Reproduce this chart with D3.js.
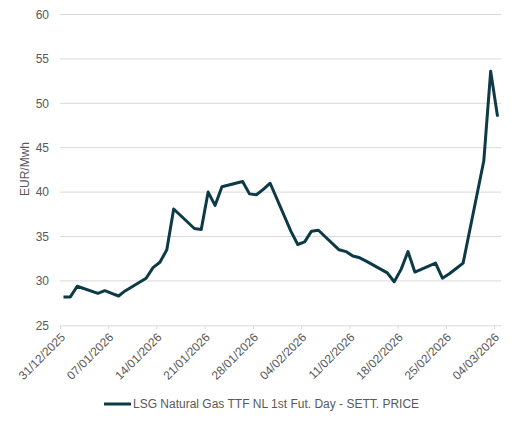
<!DOCTYPE html>
<html>
<head>
<meta charset="utf-8">
<script src="https://cdn.jsdelivr.net/npm/d3@7"></script>
<style>
html,body{margin:0;padding:0;background:#fff;}
svg{display:block;font-family:"Liberation Sans",Arial,sans-serif;}
</style>
</head>
<body>
<svg id="chart" width="521" height="422"></svg>
<script>
const dates = ["2025-12-31","2026-01-01","2026-01-02","2026-01-05","2026-01-06","2026-01-07","2026-01-08","2026-01-09",
"2026-01-12","2026-01-13","2026-01-14","2026-01-15","2026-01-16","2026-01-19","2026-01-20","2026-01-21","2026-01-22","2026-01-23",
"2026-01-26","2026-01-27","2026-01-28","2026-01-29","2026-01-30","2026-02-02","2026-02-03","2026-02-04","2026-02-05","2026-02-06",
"2026-02-09","2026-02-10","2026-02-11","2026-02-12","2026-02-13","2026-02-16","2026-02-17","2026-02-18","2026-02-19","2026-02-20",
"2026-02-23","2026-02-24","2026-02-25","2026-02-26","2026-02-27","2026-03-02","2026-03-03","2026-03-04"];
const prices = [28.2,28.2,29.4,28.6,28.9,28.6,28.3,28.9,
30.3,31.5,32.1,33.5,38.1,35.9,35.8,40.0,38.5,40.6,
41.2,39.8,39.7,40.3,41.0,35.6,34.1,34.4,35.6,35.7,
33.5,33.3,32.8,32.6,32.2,30.9,29.9,31.3,33.3,31.0,
32.0,30.3,30.8,31.4,32.0,43.5,53.6,48.5];
const yTicks = [25,30,35,40,45,50,55,60];
const xTickLabels = ["31/12/2025","07/01/2026","14/01/2026","21/01/2026","28/01/2026","04/02/2026","11/02/2026","18/02/2026","25/02/2026","04/03/2026"];
const seriesName = "LSG Natural Gas TTF NL 1st Fut. Day - SETT. PRICE";
const yTitle = "EUR/Mwh";

const parseISO = d3.utcParse("%Y-%m-%d");
const parseLbl = d3.utcParse("%d/%m/%Y");
const data = dates.map((d,i)=>({date: parseISO(d), v: prices[i]}));

const svg = d3.select("#chart");
const x = d3.scaleUtc().domain([parseISO("2025-12-31"), parseISO("2026-03-05")]).range([60, 501]);
const y = d3.scaleLinear().domain([25,60]).range([325.3, 14.5]);
const half = 12*3600*1000;

// gridlines
svg.append("g").selectAll("line").data(yTicks.filter(t=>t>25)).join("line")
  .attr("x1", 60).attr("x2", 501)
  .attr("y1", d=>y(d)).attr("y2", d=>y(d))
  .attr("stroke", "#d9d9d9").attr("stroke-width", 1);

// y labels
svg.append("g").selectAll("text").data(yTicks).join("text")
  .attr("x", 49).attr("y", d=>y(d)).attr("dy","0.35em")
  .attr("text-anchor","end").attr("font-size",12).attr("fill","#595959")
  .text(d=>d);

// y title
svg.append("text")
  .attr("transform","translate(25,169) rotate(-90)")
  .attr("text-anchor","middle").attr("dy","0.35em")
  .attr("font-size",12).attr("fill","#595959").text(yTitle);

// x axis
const xTickDates = xTickLabels.map(s=>parseLbl(s));
const xAxis = d3.axisBottom(x).tickValues(xTickDates).tickSize(4).tickFormat("");
const gx = svg.append("g").attr("transform","translate(0,325.3)").call(xAxis);
gx.select(".domain").attr("stroke","#d9d9d9").attr("d","M60,0.5H501");
gx.selectAll(".tick line").attr("stroke","#d9d9d9");
svg.append("g").selectAll("text").data(xTickLabels).join("text")
  .attr("transform", d=>`translate(${x(parseLbl(d))+3},${335}) rotate(-45)`)
  .attr("text-anchor","end").attr("dy","0.35em")
  .attr("font-size",12).attr("fill","#595959").text(d=>d);

// line
const line = d3.line().x(d=>x(new Date(+d.date+half))).y(d=>y(d.v));
svg.append("path").datum(data).attr("d", line)
  .attr("fill","none").attr("stroke","#0d3a46").attr("stroke-width",3)
  .attr("stroke-linejoin","round");

// legend
const lg = svg.append("g");
lg.append("line").attr("x1",104).attr("x2",131).attr("y1",404).attr("y2",404)
  .attr("stroke","#0d3a46").attr("stroke-width",3);
lg.append("text").attr("x",133).attr("y",404).attr("dy","0.35em")
  .attr("font-size",12).attr("fill","#595959").text(seriesName);
</script>
</body>
</html>
